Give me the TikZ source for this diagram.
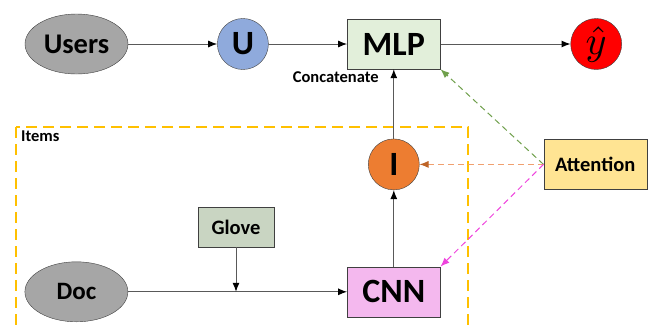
\documentclass[tikz,border=0pt]{standalone}
\usepackage{fontspec}
\setmainfont{Carlito}
\usetikzlibrary{positioning,shapes.geometric,arrows.meta}
\definecolor{inputgray}{HTML}{A6A6A6}
\definecolor{userblue}{HTML}{8FAADC}
\definecolor{itemorange}{HTML}{ED7D31}
\definecolor{mlpgreen}{HTML}{E2EFDA}
\definecolor{glovegreen}{HTML}{C9D5C2}
\definecolor{cnnpink}{HTML}{F4B8EE}
\definecolor{attnyellow}{HTML}{FFE493}
\definecolor{boxgold}{HTML}{FFC000}
\definecolor{edgegray}{HTML}{404040}
\definecolor{linegray}{HTML}{595959}
\definecolor{attngreen}{HTML}{70A04C}
\definecolor{attnorange}{HTML}{F0A070}
\definecolor{attnmagenta}{HTML}{EE44DD}
\tikzset{
    % entrate (ellisse grigia)
    inputnode/.style={draw=edgegray, fill=inputgray, ellipse,
                      minimum width=103pt, minimum height=60pt,
                      inner sep=0pt, font=\bfseries},
    % vettori latenti (cerchio)
    latent/.style={draw=edgegray, circle, minimum size=51pt,
                   inner sep=0pt, font=\bfseries\fontsize{34}{36}\selectfont},
    % strati della rete (rettangolo)
    layer/.style={draw=edgegray, rectangle, minimum width=93pt,
                  minimum height=50pt, inner sep=0pt,
                  font=\bfseries\fontsize{34}{36}\selectfont},
    smallbox/.style={draw=edgegray, rectangle, inner sep=0pt,
                     font=\bfseries\fontsize{20.5}{22}\selectfont},
    note/.style={inner sep=1pt, font=\bfseries\fontsize{16.5}{18}\selectfont},
    flow/.style={draw=linegray, line width=1pt,
                 -{Latex[length=9pt,width=7pt,color=black]}},
    attn/.style={dash pattern=on 6pt off 4pt, line width=1pt,
                 -{Latex[length=9pt,width=7pt]}},
    itembox/.style={draw=boxgold, line width=1.8pt, dash pattern=on 11pt off 6pt}
}
\begin{document}
\begin{tikzpicture}[x=1pt, y=-1pt]
    \useasboundingbox (0,0) rectangle (655,325);
    \clip (0,0) rectangle (655,325);
    % riquadro degli item
    \draw[itembox] (16,127) rectangle (468,340);
    \node[note, anchor=north west] (itemslabel) at (20,130) {Items};

    \node[inputnode, font=\bfseries\fontsize{28.5}{30}\selectfont] (users) at (76.5,44) {Users};
    \node[latent, fill=userblue, right=89pt of users] (u) {U};
    \node[layer, fill=mlpgreen, right=78.5pt of u] (mlp) {MLP};
    \node[latent, fill=red, right=130pt of mlp, font=\normalsize]
          (yhat) {\scalebox{4}{$\hat{y}$}};
    \node[note, below left=1pt and 14pt of mlp.south] (concat) {Concatenate};

    \node[latent, fill=itemorange, below=69.5pt of mlp] (i) {I};
    \node[layer, fill=cnnpink, below=76.5pt of i] (cnn) {CNN};
    \node[inputnode, font=\bfseries\fontsize{25}{27}\selectfont,
          left=219pt of cnn] (doc) {Doc};
    \node[smallbox, fill=glovegreen, minimum width=76pt, minimum height=40pt]
          (glove) at (236,227) {Glove};
    \coordinate (merge) at (glove |- doc);
    \node[smallbox, fill=attnyellow, minimum width=103pt, minimum height=50pt,
          right=124pt of i] (attention) {Attention};

    \draw[flow] (users) -- (u);
    \draw[flow] (u) -- (mlp);
    \draw[flow] (mlp) -- (yhat);
    \draw[flow] (i) -- (mlp);
    \draw[flow] (cnn) -- (i);
    \draw[flow] (doc) -- (cnn);
    \draw[flow] (glove) -- (merge);

    \draw[attn, attngreen] (attention.west) -- (mlp.south east);
    \draw[attn, attnorange, -{Latex[length=9pt,width=7pt,color=itemorange!80!black]}]
          (attention.west) -- (i);
    \draw[attn, attnmagenta] (attention.west) -- (cnn.north east);
\end{tikzpicture}
\end{document}
